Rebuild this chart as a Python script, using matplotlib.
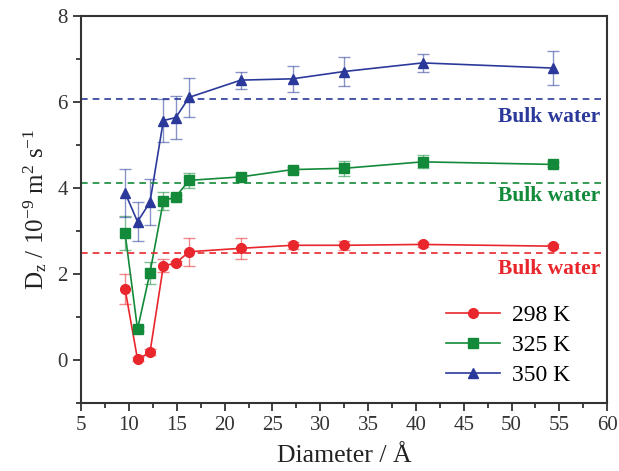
import matplotlib
matplotlib.use('Agg')
import matplotlib.pyplot as plt
from matplotlib.ticker import MultipleLocator

plt.rcParams['font.family'] = ['Liberation Serif', 'DejaVu Serif']
plt.rcParams['mathtext.fontset'] = 'custom'
plt.rcParams['mathtext.rm'] = 'Liberation Serif'
plt.rcParams['mathtext.it'] = 'Liberation Serif:italic'
plt.rcParams['axes.unicode_minus'] = False

diameter = [9.6, 10.9, 12.2, 13.6, 14.9, 16.3, 21.7, 27.1, 32.5, 40.7, 54.3]

d_298 = [1.65, 0.02, 0.18, 2.19, 2.26, 2.52, 2.60, 2.67, 2.67, 2.69, 2.65]
e_298 = [0.35, 0.05, 0.07, 0.15, 0.05, 0.33, 0.25, 0.08, 0.10, 0.05, 0.05]

d_325 = [2.95, 0.72, 2.03, 3.70, 3.80, 4.18, 4.26, 4.43, 4.46, 4.61, 4.55]
e_325 = [0.40, 0.05, 0.25, 0.20, 0.05, 0.18, 0.05, 0.05, 0.18, 0.15, 0.05]

d_350 = [3.89, 3.22, 3.67, 5.57, 5.64, 6.11, 6.51, 6.54, 6.71, 6.91, 6.79]
e_350 = [0.56, 0.46, 0.53, 0.50, 0.49, 0.45, 0.20, 0.30, 0.33, 0.21, 0.40]

bulk = [2.48, 4.12, 6.06]
labels = ['298 K', '325 K', '350 K']
colors = ['#e8262c', '#138a3a', '#2b3a9a']
markers = ['o', 's', '^']

fig = plt.figure(figsize=(6.19, 4.71), dpi=100)
ax = fig.add_axes([0.131, 0.144, 0.85, 0.822])

series = [(d_298, e_298), (d_325, e_325), (d_350, e_350)]
for (y, e), c, m, lab in zip(series, colors, markers, labels):
    ax.errorbar(diameter, y, yerr=e, fmt='none', ecolor=c, alpha=0.55,
                elinewidth=1, capsize=4, capthick=1)
    ax.plot(diameter, y, color=c, marker=m, markersize=7, lw=1.2, label=lab)

for b, c in zip(bulk, colors):
    ax.axhline(b, color=c, ls='--', lw=1.2, dashes=(4, 3))

ax.text(59.3, 5.66, 'Bulk water', color=colors[2], fontsize=15.5,
        fontweight='bold', ha='right', va='center')
ax.text(59.3, 3.82, 'Bulk water', color=colors[1], fontsize=15.5,
        fontweight='bold', ha='right', va='center')
ax.text(59.3, 2.12, 'Bulk water', color=colors[0], fontsize=15.5,
        fontweight='bold', ha='right', va='center')

ax.set_xlim(5, 60)
ax.set_ylim(-1, 8)
ax.xaxis.set_major_locator(MultipleLocator(5))
ax.xaxis.set_minor_locator(MultipleLocator(2.5))
ax.yaxis.set_major_locator(MultipleLocator(2))
ax.yaxis.set_minor_locator(MultipleLocator(1))
ax.tick_params(which='both', direction='out', labelsize=15, colors='#333333')
ax.tick_params(which='major', length=6, width=1.3)
ax.tick_params(which='minor', length=3.5, width=1.3)
for s in ax.spines.values():
    s.set_linewidth(1.5)
    s.set_color('#333333')

ax.set_xlabel('Diameter / Å', fontsize=18.5, color='#222222', labelpad=7)
ax.set_ylabel('D$_\\mathrm{z}$ / 10$^{-9}$ m$^{2}$ s$^{-1}$', fontsize=18,
              color='#222222', labelpad=6)

ax.legend(loc='lower right', frameon=False, fontsize=17, handlelength=2.3,
          labelspacing=0.35, handletextpad=0.5, bbox_to_anchor=(0.97, -0.01))

fig.savefig('out.png', dpi=100)
